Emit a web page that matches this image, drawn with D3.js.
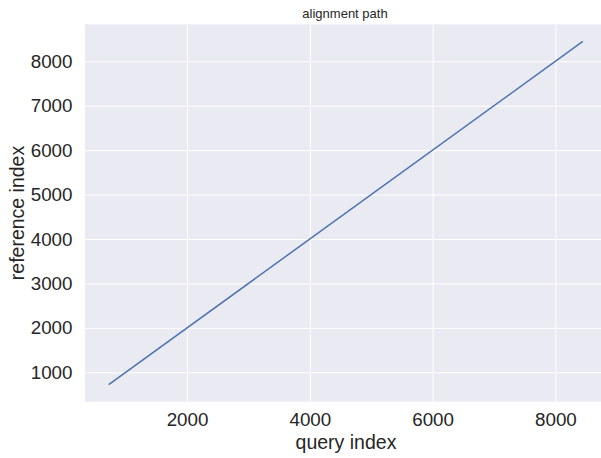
<!DOCTYPE html>
<html>
<head>
<meta charset="utf-8">
<script src="https://cdn.jsdelivr.net/npm/d3@7"></script>
<style>
  html, body { margin: 0; padding: 0; background: #ffffff; }
  svg { display: block; }
  text { font-family: "Liberation Sans", Arial, sans-serif; fill: #262626; }
</style>
</head>
<body>
<svg id="chart" width="601" height="458"></svg>
<script>
// Warping path: query index vs. reference index
const queryIndex = [724, 8446];
const referenceIndex = [724, 8446];
const xTicks = [2000, 4000, 6000, 8000];
const yTicks = [1000, 2000, 3000, 4000, 5000, 6000, 7000, 8000];

const plot = { left: 85, right: 606.5, top: 24.3, bottom: 401.7 };

const svg = d3.select("#chart");

const xMin = d3.min(queryIndex), xMax = d3.max(queryIndex);
const yMin = d3.min(referenceIndex), yMax = d3.max(referenceIndex);
const xPad = (xMax - xMin) * 0.05, yPad = (yMax - yMin) * 0.05;

const x = d3.scaleLinear().domain([xMin - xPad, xMax + xPad]).range([plot.left, plot.right]);
const y = d3.scaleLinear().domain([yMin - yPad, yMax + yPad]).range([plot.bottom, plot.top]);

// background panel
svg.append("rect")
  .attr("x", plot.left).attr("y", plot.top)
  .attr("width", plot.right - plot.left).attr("height", plot.bottom - plot.top)
  .attr("fill", "#eaeaf2");

// grid
const gx = svg.append("g")
  .attr("transform", `translate(0,${plot.bottom})`)
  .call(d3.axisBottom(x).tickValues(xTicks).tickSize(-(plot.bottom - plot.top)).tickPadding(11).tickFormat(d3.format("d")));
const gy = svg.append("g")
  .attr("transform", `translate(${plot.left},0)`)
  .call(d3.axisLeft(y).tickValues(yTicks).tickSize(-(plot.right - plot.left)).tickPadding(12.5).tickFormat(d3.format("d")));

[gx, gy].forEach(g => {
  g.select(".domain").remove();
  g.selectAll(".tick line").attr("stroke", "#ffffff").attr("stroke-width", 1);
  g.selectAll(".tick text").attr("font-size", 18.8).attr("fill", "#262626")
    .style("font-family", "'Liberation Sans', Arial, sans-serif");
});

// path line
const pts = queryIndex.map((q, i) => [q, referenceIndex[i]]);
svg.append("path")
  .datum(pts)
  .attr("fill", "none")
  .attr("stroke", "#4c72b0")
  .attr("stroke-width", 1.5)
  .attr("d", d3.line().x(d => x(d[0])).y(d => y(d[1])));

// title and axis labels
svg.append("text")
  .attr("x", 345).attr("y", 18)
  .attr("text-anchor", "middle").attr("font-size", 13)
  .text("alignment path");

svg.append("text")
  .attr("x", 346).attr("y", 449)
  .attr("text-anchor", "middle").attr("font-size", 19.5)
  .text("query index");

svg.append("text")
  .attr("transform", `translate(24,${(plot.top + plot.bottom) / 2}) rotate(-90)`)
  .attr("text-anchor", "middle").attr("font-size", 19.5)
  .text("reference index");
</script>
</body>
</html>
